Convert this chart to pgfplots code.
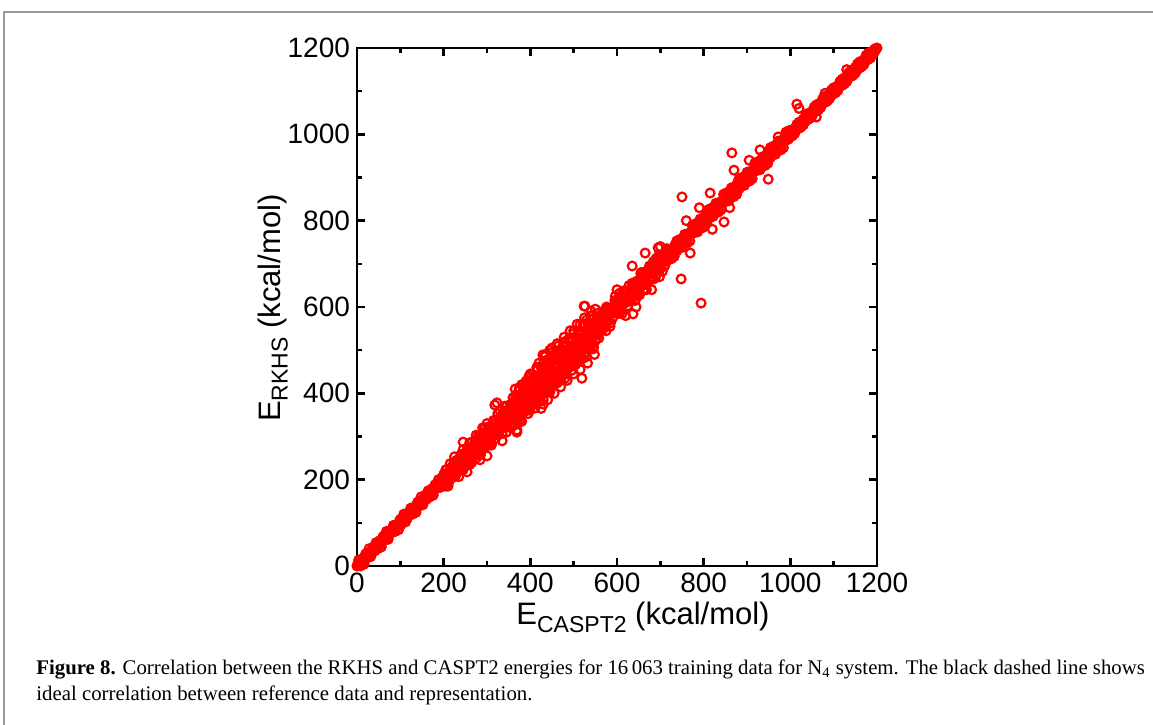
\documentclass[border=0pt]{standalone}
\usepackage{fontspec}
\setmainfont{Liberation Serif}
\newfontfamily\plotfont{Liberation Sans}
\usepackage{pgfplots}
\pgfplotsset{compat=1.18}
\begin{document}
\begin{tikzpicture}
\useasboundingbox (0,0) rectangle (576.5pt,362pt);
\draw[black!40, line width=0.6pt] (2pt,-10pt) -- (2pt,356pt) -- (600pt,356pt);
\begin{axis}[
  at={(178.5pt,79pt)}, anchor=south west,
  scale only axis, width=260pt, height=259pt,
  xmin=0, xmax=1200, ymin=0, ymax=1200,
  xtick={0,200,...,1200}, ytick={0,200,...,1200},
  minor tick num=1,
  tick align=inside, tick pos=both,
  major tick length=4pt, minor tick length=2.5pt,
  axis line style={line width=1.3pt},
  every tick/.style={black, line width=1.3pt},
  ticklabel style={font=\plotfont\fontsize{14}{16}\selectfont},
  /pgf/number format/assume math mode=true,
  /pgf/number format/1000 sep={},
  clip=false,
]
\addplot[only marks, mark=o, mark size=2.2pt, red, line width=1.1pt] coordinates {
(0,0) (4,14) (8,0) (12,16) (16,4) (20,28) (24,20) (28,40) (32,22) (36,42)
(40,40) (44,54) (48,40) (52,56) (56,44) (60,68) (64,60) (68,80) (72,62) (76,82)
(80,80) (84,94) (88,80) (92,96) (96,84) (100,108) (104,100) (108,120) (112,102) (116,122)
(120,120) (124,134) (128,120) (132,136) (136,124) (140,148) (144,140) (148,160) (152,142) (156,162)
(160,160) (164,174) (168,160) (172,176) (176,164) (180,188) (184,180) (188,200) (192,182) (196,202)
(2,5) (5,2) (8,14) (11,5) (14,14) (17,20) (20,17) (23,29) (26,20) (29,29) (32,35) (35,32) (38,44) (41,35)
(44,44) (47,50) (50,47) (53,59) (56,50) (59,59) (62,65) (65,62) (68,74) (71,65) (74,74) (77,80) (80,77)
(83,89) (86,80) (89,89) (92,95) (95,92) (98,104) (101,95) (104,104) (107,110) (110,107) (113,119)
(116,110) (119,119) (122,125) (125,122) (128,134) (131,125) (134,134) (137,140) (140,137) (143,149)
(146,140) (149,149) (152,155) (155,152) (158,164) (161,155) (164,164) (167,170) (170,167) (173,179)
(176,170) (179,179) (182,185) (185,182) (188,194) (191,185) (194,194) (197,200)
(200,212) (200,190) (205,185) (205,223) (210,215) (210,185) (215,237) (215,209) (220,205) (220,230)
(225,253) (225,207) (230,222) (230,245) (235,235) (235,207) (240,258) (240,228) (245,223) (245,270)
(250,262) (250,240) (255,235) (255,273) (260,265) (260,235) (265,287) (265,259) (270,255) (270,280)
(275,303) (275,257) (280,272) (280,295) (285,285) (285,257) (290,308) (290,278) (295,273) (295,320)
(300,312) (300,290) (305,285) (305,323) (310,315) (310,285) (315,337) (315,309) (320,305) (320,330)
(325,353) (325,307) (330,322) (330,345) (335,335) (335,307) (340,358) (340,328) (345,323) (345,370)
(350,362) (350,340) (355,330) (355,375)
(200,210) (200,192) (204,190) (204,208) (208,224) (208,206) (212,213) (212,194) (216,226) (216,208)
(220,206) (220,224) (224,240) (224,222) (228,229) (228,210) (232,242) (232,224) (236,222) (236,240)
(240,256) (240,238) (244,245) (244,226) (248,258) (248,240) (252,238) (252,256) (256,272) (256,254)
(260,261) (260,242) (264,274) (264,256) (268,254) (268,272) (272,288) (272,270) (276,277) (276,258)
(280,290) (280,272) (284,270) (284,288) (288,304) (288,286) (292,293) (292,274) (296,306) (296,288)
(300,286) (300,304) (304,320) (304,302) (308,309) (308,290) (312,322) (312,304) (316,302) (316,320)
(320,336) (320,318) (324,325) (324,306) (328,338) (328,320) (332,318) (332,336) (336,352) (336,334)
(340,341) (340,322) (344,354) (344,336) (348,334) (348,352) (352,368) (352,350) (356,357) (356,338)
(260,285) (275,250) (290,320) (310,280) (330,360) (345,310) (280,300) (300,330) (320,295) (340,370)
(355,320) (265,240)
(254,218) (284,246) (245,287) (323,378) (318,373) (369,315) (369,310) (411,366) (300,255) (335,290)
(360,360) (360,390) (360,325) (365,385) (365,350) (365,410) (370,330) (370,380) (370,350)
(375,410) (375,345) (375,380) (380,370) (380,420) (380,335) (385,410) (385,360) (385,400)
(390,360) (390,390) (390,428) (395,405) (395,353) (395,423) (400,445) (400,395) (400,372)
(405,387) (405,427) (405,397) (410,410) (410,440) (410,375) (415,435) (415,400) (415,460)
(420,380) (420,430) (420,400) (425,460) (425,395) (425,430) (430,420) (430,470) (430,385)
(435,460) (435,410) (435,450) (440,410) (440,440) (440,478) (445,455) (445,403) (445,473)
(450,495) (450,445) (450,422) (455,437) (455,477) (455,447) (460,460) (460,490) (460,425)
(465,485) (465,450) (465,510) (470,430) (470,480) (470,450) (475,510) (475,445) (475,480)
(480,470) (480,520) (480,435) (485,510) (485,460) (485,500) (490,460) (490,490) (490,528)
(495,505) (495,453) (495,523) (500,545) (500,495) (500,472) (505,487) (505,527) (505,497)
(510,510) (510,540) (510,475) (515,535) (515,500) (515,560) (520,480) (520,530) (520,500)
(525,560) (525,495) (525,530) (530,520) (530,570) (530,485) (535,560) (535,510) (535,550)
(540,510) (540,540) (540,578) (545,555) (545,503) (545,573) (550,595) (550,545) (550,522)
(555,537) (555,577) (555,547)
(360,375) (360,345) (363,338) (363,368) (366,396) (366,361) (369,364) (369,339) (372,394) (372,352)
(375,383) (375,413) (378,340) (378,368) (381,396) (381,366) (384,359) (384,389) (387,417) (387,382)
(390,385) (390,360) (393,415) (393,373) (396,404) (396,434) (399,361) (399,389) (402,417) (402,387)
(405,380) (405,410) (408,438) (408,403) (411,406) (411,381) (414,436) (414,394) (417,425) (417,455)
(420,382) (420,410) (423,438) (423,408) (426,401) (426,431) (429,459) (429,424) (432,427) (432,402)
(435,457) (435,415) (438,446) (438,476) (441,403) (441,431) (444,459) (444,429) (447,422) (447,452)
(450,480) (450,445) (453,448) (453,423) (456,478) (456,436) (459,467) (459,497) (462,424) (462,452)
(465,480) (465,450) (468,443) (468,473) (471,501) (471,466) (474,469) (474,444) (477,499) (477,457)
(480,488) (480,518) (483,445) (483,473) (486,501) (486,471) (489,464) (489,494) (492,522) (492,487)
(495,490) (495,465) (498,520) (498,478) (501,509) (501,539) (504,466) (504,494) (507,522) (507,492)
(510,485) (510,515) (513,543) (513,508) (516,511) (516,486) (519,541) (519,499) (522,530) (522,560)
(525,487) (525,515) (528,543) (528,513) (531,506) (531,536) (534,564) (534,529) (537,532) (537,507)
(540,562) (540,520) (543,551) (543,581) (546,508) (546,536) (549,564) (549,534) (552,527) (552,557)
(555,585) (555,550) (558,553) (558,528)
(361,363) (367,365) (373,376) (379,377) (385,388) (391,389) (397,400) (403,401) (409,412) (415,413)
(421,424) (427,425) (433,436) (439,437) (445,448) (451,449) (457,460) (463,461) (469,472) (475,473)
(481,484) (487,485) (493,496) (499,497) (505,508) (511,509) (517,520) (523,521) (529,532) (535,533)
(541,544) (547,545) (553,556) (559,557)
(420,470) (425,365) (435,490) (440,385) (450,505) (455,400) (462,515) (470,415) (478,530) (485,430)
(492,545) (500,445) (508,560) (515,455) (525,575) (532,470) (540,590) (548,490) (430,375) (445,500)
(397,440) (429,489) (433,485) (519,435) (524,602) (526,602)
(560,575) (560,548) (565,545) (565,573) (570,575) (570,552) (575,597) (575,570) (580,570) (580,598)
(585,597) (585,563) (590,575) (590,593) (595,615) (595,587) (600,615) (600,588) (605,585) (605,613)
(610,615) (610,592) (615,637) (615,610) (620,610) (620,638) (625,637) (625,603) (630,615) (630,633)
(635,655) (635,627) (640,655) (640,628) (645,625) (645,653) (650,655) (650,632) (655,677) (655,650)
(660,650) (660,678) (665,677) (665,643) (670,655) (670,673) (675,695) (675,667) (680,695) (680,668)
(685,665) (685,693) (690,695) (690,672) (695,717) (695,690) (700,690) (700,718) (705,717) (705,683)
(710,695) (710,713) (715,735) (715,707)
(562,562) (566,574) (570,562) (574,588) (578,566) (582,586) (586,586) (590,598) (594,586) (598,612)
(602,590) (606,610) (610,610) (614,622) (618,610) (622,636) (626,614) (630,634) (634,634) (638,646)
(642,634) (646,660) (650,638) (654,658) (658,658) (662,670) (666,658) (670,684) (674,662) (678,682)
(682,682) (686,694) (690,682) (694,708) (698,686) (702,706) (706,706) (710,718) (714,706) (718,732)
(568,590) (584,555) (596,625) (612,585) (628,650) (642,615) (656,680) (668,640) (684,705) (698,670)
(712,730) (576,600) (606,632) (652,628) (690,712) (575,545)
(635,695) (665,725) (695,737) (637,584) (644,600) (748,665) (769,725) (794,609) (750,855)
(600,640) (620,580) (680,640) (700,740)
(720,732) (720,712) (726,712) (726,732) (732,736) (732,717) (738,753) (738,735) (744,738) (744,756)
(750,758) (750,738) (756,768) (756,748) (762,748) (762,768) (768,772) (768,753) (774,789) (774,771)
(780,774) (780,792) (786,794) (786,774) (792,804) (792,784) (798,784) (798,804) (804,808) (804,789)
(810,825) (810,807) (816,810) (816,828) (822,830) (822,810) (828,840) (828,820) (834,820) (834,840)
(840,844) (840,825) (846,861) (846,843) (852,846) (852,864) (858,866) (858,846) (864,876) (864,856)
(870,856) (870,876) (876,880) (876,861) (882,897) (882,879) (888,882) (888,900) (894,902) (894,882)
(900,912) (900,892) (906,892) (906,912) (912,916) (912,897) (918,933) (918,915) (924,918) (924,936)
(930,938) (930,918) (936,948) (936,928) (942,928) (942,948) (948,952) (948,933) (954,969) (954,951)
(960,954) (960,972) (966,974) (966,954) (972,984) (972,964) (978,964) (978,984) (984,988) (984,969)
(990,1005) (990,987) (996,990) (996,1008)
(722,722) (726,732) (730,724) (734,744) (738,730) (742,745) (746,746) (750,756) (754,748) (758,768)
(762,754) (766,769) (770,770) (774,780) (778,772) (782,792) (786,778) (790,793) (794,794) (798,804)
(802,796) (806,816) (810,802) (814,817) (818,818) (822,828) (826,820) (830,840) (834,826) (838,841)
(842,842) (846,852) (850,844) (854,864) (858,850) (862,865) (866,866) (870,876) (874,868) (878,888)
(882,874) (886,889) (890,890) (894,900) (898,892) (902,912) (906,898) (910,913) (914,914) (918,924)
(922,916) (926,936) (930,922) (934,937) (938,938) (942,948) (946,940) (950,960) (954,946) (958,961)
(962,962) (966,972) (970,964) (974,984) (978,970) (982,985) (986,986) (990,996) (994,988) (998,1008)
(865,957) (870,917) (949,896) (972,994) (930,964) (847,797) (815,864) (1015,1070) (1020,1060)
(860,830) (790,830) (905,940) (820,780) (760,800)
(1000,1008) (1000,994) (1005,997) (1005,1009) (1010,1012) (1010,1002) (1015,1023) (1015,1015)
(1020,1028) (1020,1014) (1025,1017) (1025,1029) (1030,1032) (1030,1022) (1035,1043) (1035,1035)
(1040,1048) (1040,1034) (1045,1037) (1045,1049) (1050,1052) (1050,1042) (1055,1063) (1055,1055)
(1060,1068) (1060,1054) (1065,1057) (1065,1069) (1070,1072) (1070,1062) (1075,1083) (1075,1075)
(1080,1088) (1080,1074) (1085,1077) (1085,1089) (1090,1092) (1090,1082) (1095,1103) (1095,1095)
(1100,1108) (1100,1094) (1105,1097) (1105,1109) (1110,1112) (1110,1102) (1115,1123) (1115,1115)
(1120,1128) (1120,1114) (1125,1117) (1125,1129) (1130,1132) (1130,1122) (1135,1143) (1135,1135)
(1140,1148) (1140,1134) (1145,1137) (1145,1149) (1150,1152) (1150,1142) (1155,1163) (1155,1155)
(1160,1168) (1160,1154) (1165,1157) (1165,1169) (1170,1172) (1170,1162) (1175,1183) (1175,1175)
(1180,1188) (1180,1174) (1185,1177) (1185,1189) (1190,1192) (1190,1186) (1195,1198) (1195,1192)
(1002,1002) (1006,1011) (1010,1005) (1014,1014) (1018,1023) (1022,1017) (1026,1026) (1030,1035)
(1034,1029) (1038,1038) (1042,1047) (1046,1041) (1050,1050) (1054,1059) (1058,1053) (1062,1062)
(1066,1071) (1070,1065) (1074,1074) (1078,1083) (1082,1077) (1086,1086) (1090,1095) (1094,1089)
(1098,1098) (1102,1107) (1106,1101) (1110,1110) (1114,1119) (1118,1113) (1122,1122) (1126,1131)
(1130,1125) (1134,1134) (1138,1143) (1142,1137) (1146,1146) (1150,1155) (1154,1149) (1158,1158)
(1162,1167) (1166,1161) (1170,1170) (1174,1179) (1178,1173) (1182,1182) (1186,1191) (1190,1185)
(1194,1194) (1198,1198)
(1200,1200) (1080,1095) (1060,1040) (1130,1150)
};
\addplot[black, line width=1pt, dash pattern=on 4pt off 4pt] coordinates {(0,0) (1200,1200)};
\end{axis}
\node[anchor=base, font=\plotfont\fontsize{15.5}{18}\selectfont] at (321.5pt,49.5pt)
  {E\raisebox{-3.8pt}{\fontsize{11.5}{13}\selectfont CASPT2} (kcal/mol)};
\node[anchor=base, rotate=90, font=\plotfont\fontsize{15.5}{18}\selectfont] at (140pt,208pt)
  {E\raisebox{-3.8pt}{\fontsize{11.5}{13}\selectfont RKHS} (kcal/mol)};
\node[anchor=base west, inner sep=0pt, font=\fontsize{10.4}{12}\selectfont] at (18pt,24.5pt)
  {\textbf{Figure 8.} Correlation between the RKHS and CASPT2 energies for 16\,063 training data for N\textsubscript{4} system. The black dashed line shows};
\node[anchor=base west, inner sep=0pt, font=\fontsize{10.4}{12}\selectfont] at (18pt,12pt)
  {ideal correlation between reference data and representation.};
\end{tikzpicture}
\end{document}
